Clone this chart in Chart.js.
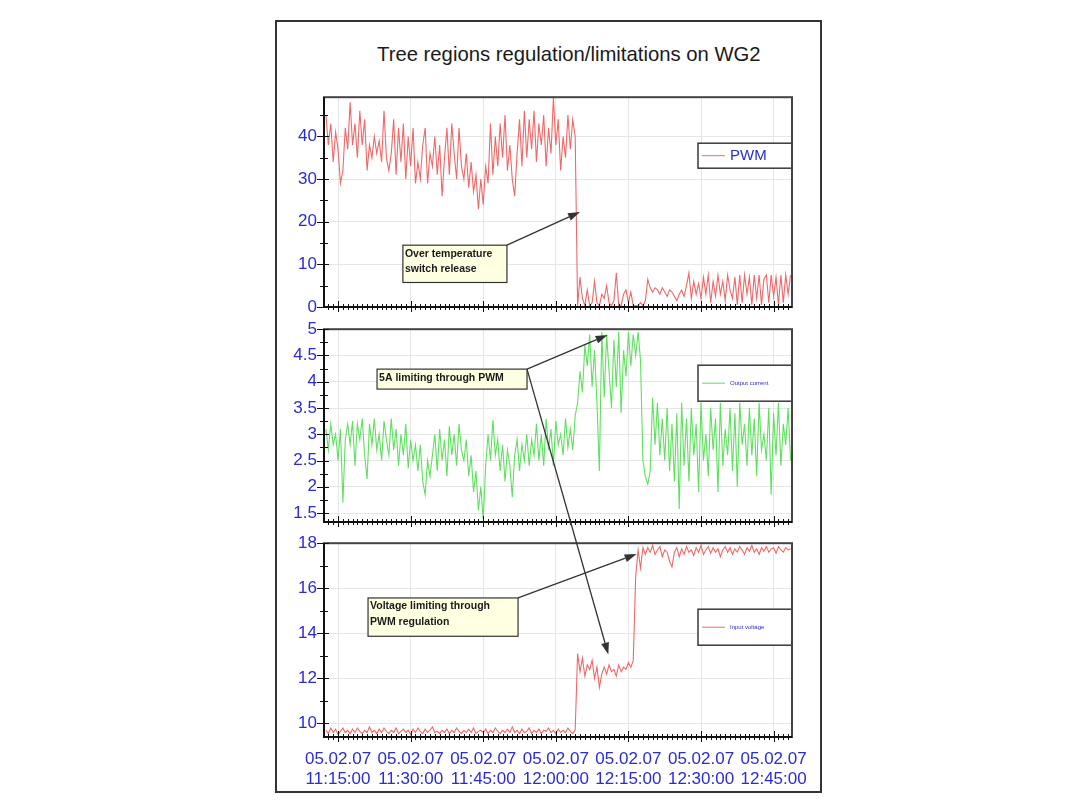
<!DOCTYPE html>
<html>
<head>
<meta charset="utf-8">
<script src="https://cdn.jsdelivr.net/npm/chart.js@4.4.0/dist/chart.umd.min.js"></script>
<style>
    html, body { margin: 0; padding: 0; background: #fff; }
    #page { position: relative; width: 1076px; height: 807px; overflow: hidden; }
    #frame { position: absolute; left: 275px; top: 20px; width: 543px; height: 769px; border: 2px solid #333; }
    #title { position: absolute; left: 377px; top: 43px; font: 20.3px Arial, "Liberation Sans", sans-serif; color: #1a1a1a; white-space: nowrap; }
    canvas { position: absolute; }
</style>
</head>
<body>
<div id="page">
    <div id="frame"></div>
    <div id="title">Tree regions regulation/limitations on WG2</div>
    <canvas id="pwmChart" width="544" height="245" style="left:276px;top:80px"></canvas>
    <canvas id="currentChart" width="544" height="228" style="left:276px;top:312px"></canvas>
    <canvas id="voltageChart" width="544" height="266" style="left:276px;top:526px"></canvas>
    <canvas id="overlay" width="1076" height="807" style="left:0;top:0"></canvas>
</div>
<script>
// Three logged channels of WG2, sampled every 30 s, time in minutes after 11:15:00

const sampleStartMin = -2.5;
const sampleStepMin = 0.5;

const dateLabel = '05.02.07';
const tickMinutes = [0, 15, 30, 45, 60, 75, 90];
const timeLabels = ['11:15:00', '11:30:00', '11:45:00', '12:00:00', '12:15:00', '12:30:00', '12:45:00'];

const pwmValues = [
    45, 38, 43, 34, 41, 37, 29, 32, 42, 37, 48, 38, 43, 35, 46, 38, 44, 32, 38, 35,
    40, 36, 39, 34, 46, 35, 32, 36, 44, 31, 42, 34, 43, 30, 40, 33, 42, 29,
    34, 30, 38, 42, 29, 36, 33, 40, 31, 38,
    26, 35, 42, 31, 43, 36, 30, 42, 33, 30, 36, 28, 34, 27, 31, 23, 30, 24, 33, 29,
    43, 31, 40, 33, 43, 35, 45, 32, 38, 30, 26, 36,
    44, 33, 46, 35, 44, 37, 46, 34, 43, 38, 45, 33,
    42, 36, 49, 38, 44, 32, 40, 35, 45, 37, 44, 40,
    0.3,
    7, 2, 0.3, 4, 0.3, 1, 6, 1, 0.3, 3, 2, 5, 1, 0.3, 1.5, 8, 0.3, 0.3, 3, 4,
    1, 3.5, 0.3, 0.3, 0.3, 1, 0.3, 1.5, 6.5,
    4.5, 3.5, 4.5, 4, 3, 4.5, 3.5, 2.5, 4, 3.5, 2.5, 1.5, 3, 4, 2.5, 5,
    8, 2, 6, 3, 5.5,
    2, 7, 3, 7.5, 1, 6, 2.5, 7.5, 3, 6, 1.5, 7.5, 4, 2,
    7, 0.5, 7.5, 1, 7.5, 3, 7, 0.5, 7.5, 2, 7.5, 0.5, 6.5, 7.5, 1, 7.5, 2.5, 7, 0.5, 7.5,
    1, 7.5, 3, 7.5
];

const currentValues = [
    3.1, 2.7, 3.2, 2.8, 3.0, 2.5, 3.1, 1.7, 2.9,
    3.2, 2.8, 3.25, 2.4, 3.2, 2.9, 3.3, 2.6,
    2.15,
    3.2, 2.8, 3.3, 2.7, 3.0, 2.5, 3.25, 2.9, 2.6,
    3.3, 2.7, 3.1, 2.4, 3.0, 2.6, 3.2, 2.35, 2.9, 2.5, 2.8,
    2.3, 2.8, 2.1, 1.85, 2.5, 2.2, 2.6,
    3.0, 2.3, 3.1, 2.5, 2.9, 2.2, 3.15, 2.6, 3.0, 2.4, 3.2, 2.7,
    2.5, 2.9, 2.2, 2.6, 1.9, 2.3, 1.55, 2.0, 1.38,
    2.4, 3.0, 2.5, 3.27, 2.6,
    2.9, 2.3, 2.8, 2.1, 2.7, 2.4, 1.8, 2.6,
    2.9, 2.3, 2.8, 2.5, 3.0, 2.4, 2.9, 2.6,
    3.2, 2.5, 3.0, 2.4, 3.3, 2.7, 3.1, 2.4, 3.25, 2.8, 3.0, 2.6, 3.3, 2.75, 3.1, 2.7, 3.35,
    3.6, 4.2, 3.8, 4.7, 4.3,
    4.9, 3.9, 4.6, 3.6, 2.3, 4.95,
    3.7, 4.9, 4.2, 3.5, 4.8, 3.9, 4.95, 3.4, 4.6, 4.1, 4.95,
    4.3, 4.9, 4.5, 4.95, 4.4,
    2.5, 2.2, 2.05, 2.3,
    3.7, 2.8, 3.6, 2.6, 3.3, 2.5,
    3.5, 2.3, 3.2, 2.1, 3.4, 1.58,
    3.6, 2.4, 3.3, 2.1, 3.5, 2.6, 3.2, 1.9, 3.6, 2.5, 3.0, 2.2, 3.5, 2.7, 3.3, 1.9,
    3.6, 2.4, 3.1, 2.6, 3.5, 2.3, 3.4, 2.0, 3.6, 2.8, 3.2, 2.4, 3.5, 2.6, 3.3, 2.2,
    3.6, 2.7, 3.0, 2.5, 3.5, 1.85, 3.4, 2.6, 3.6, 2.4, 3.2, 2.8, 3.5, 2.5
];

const voltageValues = [
    9.7, 9.55, 9.8, 9.6, 9.75, 9.5, 9.65, 9.8, 9.6, 9.7, 9.55, 9.75, 9.6,
    9.8, 9.65, 9.55, 9.7, 9.6, 9.85, 9.6, 9.7, 9.55, 9.75, 9.6, 9.8, 9.65,
    9.55, 9.7, 9.6, 9.8, 9.55, 9.65, 9.75, 9.6, 9.7, 9.5, 9.75, 9.6, 9.8,
    9.65, 9.55, 9.75, 9.6, 9.7, 9.85, 9.6, 9.65, 9.55, 9.7, 9.6, 9.75, 9.55,
    9.7, 9.6, 9.8, 9.65, 9.55, 9.7, 9.6, 9.75, 9.6, 9.8, 9.55, 9.65, 9.7,
    9.6, 9.75, 9.55, 9.7, 9.6, 9.8, 9.65, 9.55, 9.7, 9.6, 9.75, 9.6, 9.85,
    9.6, 9.7, 9.55, 9.75, 9.6, 9.65, 9.8, 9.55, 9.7, 9.6, 9.75, 9.55, 9.7,
    9.65, 9.8, 9.6, 9.7, 9.55, 9.75, 9.6, 9.7, 9.6, 9.8, 9.65, 9.55, 9.7,
    13.1,
    12.3, 12.9, 12.1, 12.6, 12.4, 12.8, 12.0, 12.5, 11.6, 12.2,
    12.5, 12.2, 12.6, 12.3, 12.4, 12.1, 12.6, 12.3, 12.5, 12.4, 12.7, 12.5, 12.8,
    16.5, 17.7, 16.9, 17.8, 17.5,
    17.8, 17.6, 17.9, 17.5, 17.7, 17.85, 17.4, 17.7, 17.6, 17.2,
    16.95, 17.6, 17.8, 17.4, 17.75, 17.5, 17.85, 17.6, 17.7, 17.45,
    17.8, 17.6, 17.9, 17.5, 17.7, 17.85, 17.55, 17.8, 17.6, 17.75,
    17.4, 17.7, 17.85, 17.6, 17.8, 17.5, 17.75, 17.6, 17.85, 17.7,
    17.5, 17.8, 17.65, 17.9, 17.6, 17.75, 17.5, 17.8, 17.65, 17.85,
    17.6, 17.75, 17.8, 17.55, 17.85, 17.7, 17.6, 17.8, 17.7, 17.75
];

const pwmTicks = [0, 10, 20, 30, 40];
const currentTicks = [1.5, 2, 2.5, 3, 3.5, 4, 4.5, 5];
const voltageTicks = [10, 12, 14, 16, 18];

// annotation boxes, in data units of their panel (minutes, value)
const notes = [
    { panel: 0, lines: ['Over temperature', 'switch release'], from: [13.4, 14.5], to: [34.9, 5.75],
      arrows: [{ panel: 0, at: [50.0, 22.3] }] },
    { panel: 1, lines: ['5A limiting through PWM'], from: [8.06, 4.24], to: [39.05, 3.86],
      arrows: [{ panel: 1, at: [55.7, 4.89] }, { panel: 2, at: [55.85, 13.06] }] },
    { panel: 2, lines: ['Voltage limiting through', 'PWM regulation'], from: [6.2, 15.57], to: [37.2, 13.87],
      arrows: [{ panel: 2, at: [61.7, 17.52] }] }
];

Chart.defaults.font.family = 'Arial, "Liberation Sans", sans-serif';
const tickBlue = '#2b2bd4';

function toPoints(values) {
    return values.map((v, i) => ({ x: sampleStartMin + i * sampleStepMin, y: v }));
}

const panelDecor = {
    id: 'panelDecor',
    afterDraw(chart, args, opts) {
        const { ctx, chartArea: a } = chart;
        const xs = chart.scales.x, ys = chart.scales.y;
        ctx.save();

        // legend box, top right of the plot area
        const lg = opts.legend;
        const bw = 94;
        const bx = a.right - bw, by = a.top + lg.top;
        ctx.fillStyle = '#fff';
        ctx.fillRect(bx, by, bw, lg.height);
        ctx.strokeStyle = '#3a3a3a';
        ctx.lineWidth = 1.5;
        ctx.strokeRect(bx, by, bw, lg.height);
        const ly = by + lg.height / 2;
        ctx.strokeStyle = lg.color;
        ctx.lineWidth = 1;
        ctx.beginPath();
        ctx.moveTo(bx + 4, ly);
        ctx.lineTo(bx + 27, ly);
        ctx.stroke();
        ctx.fillStyle = tickBlue;
        ctx.font = lg.font;
        ctx.textBaseline = 'middle';
        ctx.fillText(lg.text, bx + 32, ly + 0.5);

        // frame and axes
        ctx.strokeStyle = '#444';
        ctx.lineWidth = 2;
        ctx.strokeRect(a.left, a.top, a.right - a.left, a.bottom - a.top);
        ctx.strokeStyle = '#111';
        ctx.beginPath();
        ctx.moveTo(a.left, a.top);
        ctx.lineTo(a.left, a.bottom);
        ctx.lineTo(a.right, a.bottom);
        ctx.stroke();

        // minute ticks across the time axis
        ctx.lineWidth = 1;
        for (let m = Math.ceil(xs.min); m <= xs.max; m++) {
            const px = Math.round(xs.getPixelForValue(m)) + 0.5;
            const major = m % 15 === 0;
            ctx.beginPath();
            ctx.moveTo(px, a.bottom - (major ? 6 : 3));
            ctx.lineTo(px, a.bottom + (major ? 5 : 3));
            ctx.stroke();
        }

        // value ticks across the left axis
        const step = opts.yMinor;
        for (let k = Math.ceil(ys.min / step - 1e-6); k * step <= ys.max + 1e-6; k++) {
            const v = k * step;
            const py = Math.round(ys.getPixelForValue(v)) + 0.5;
            const r = v / opts.yMajor;
            const major = Math.abs(r - Math.round(r)) < 1e-6;
            ctx.beginPath();
            ctx.moveTo(a.left - (major ? 7 : 4), py);
            ctx.lineTo(a.left + (major ? 5 : 4), py);
            ctx.stroke();
        }
        ctx.restore();
    }
};

function makePanel(canvasId, values, color, yMin, yMax, yTicks, yMinor, yMajor, legend, showTimes) {
    return new Chart(document.getElementById(canvasId), {
        type: 'line',
        plugins: [panelDecor],
        data: {
            datasets: [{
                data: toPoints(values),
                borderColor: color,
                borderWidth: 1.1,
                pointRadius: 0,
                tension: 0
            }]
        },
        options: {
            responsive: false,
            animation: false,
            events: [],
            layout: { padding: { top: 13, right: 28, left: 0, bottom: 0 } },
            scales: {
                x: {
                    type: 'linear',
                    min: -2.9,
                    max: 93.8,
                    afterBuildTicks: scale => { scale.ticks = tickMinutes.map(v => ({ value: v })); },
                    afterFit: scale => { scale.height = showTimes ? 55 : 18; },
                    border: { display: false },
                    grid: { color: '#e6e6e6', lineWidth: 1, drawTicks: false },
                    ticks: {
                        display: showTimes,
                        autoSkip: false,
                        maxRotation: 0,
                        minRotation: 0,
                        padding: 12,
                        color: tickBlue,
                        font: { size: 17 },
                        callback: value => [dateLabel, timeLabels[tickMinutes.indexOf(value)]]
                    }
                },
                y: {
                    min: yMin,
                    max: yMax,
                    afterBuildTicks: scale => { scale.ticks = yTicks.map(v => ({ value: v })); },
                    afterFit: scale => { scale.width = 48; },
                    border: { display: false },
                    grid: { color: '#e6e6e6', lineWidth: 1, drawTicks: false },
                    ticks: {
                        padding: 7,
                        color: tickBlue,
                        font: { size: 17 },
                        callback: value => `${value}`
                    }
                }
            },
            plugins: {
                legend: { display: false },
                title: { display: false },
                tooltip: { enabled: false },
                panelDecor: { yMinor, yMajor, legend }
            }
        }
    });
}

const charts = [
    makePanel('pwmChart', pwmValues, '#f06868', 0, 49.2, pwmTicks, 5, 10,
        { text: 'PWM', color: '#f06868', font: '15px Arial, "Liberation Sans", sans-serif', top: 46, height: 25 }, false),
    makePanel('currentChart', currentValues, '#5fe05f', 1.33, 5, currentTicks, 0.25, 0.5,
        { text: 'Output current', color: '#5fe05f', font: '6px Arial, "Liberation Sans", sans-serif', top: 36, height: 36 }, false),
    makePanel('voltageChart', voltageValues, '#f06868', 9.4, 18, voltageTicks, 1, 2,
        { text: 'Input voltage', color: '#f06868', font: '6px Arial, "Liberation Sans", sans-serif', top: 66, height: 36 }, true)
];

// annotation boxes and arrows, drawn above all three panels
function pagePoint(panel, t, v) {
    const chart = charts[panel];
    const c = chart.canvas;
    return [c.offsetLeft + chart.scales.x.getPixelForValue(t), c.offsetTop + chart.scales.y.getPixelForValue(v)];
}

function drawArrow(ctx, x0, y0, x1, y1) {
    const ang = Math.atan2(y1 - y0, x1 - x0);
    const len = 12, half = 4;
    const bx = x1 - len * Math.cos(ang), by = y1 - len * Math.sin(ang);
    ctx.beginPath();
    ctx.moveTo(x0, y0);
    ctx.lineTo(bx, by);
    ctx.stroke();
    ctx.beginPath();
    ctx.moveTo(x1, y1);
    ctx.lineTo(bx + half * Math.sin(ang), by - half * Math.cos(ang));
    ctx.lineTo(bx - half * Math.sin(ang), by + half * Math.cos(ang));
    ctx.closePath();
    ctx.fill();
}

const octx = document.getElementById('overlay').getContext('2d');
notes.forEach(note => {
    const [x0, y0] = pagePoint(note.panel, note.from[0], note.from[1]);
    const [x1, y1] = pagePoint(note.panel, note.to[0], note.to[1]);
    octx.strokeStyle = '#333';
    octx.fillStyle = '#333';
    octx.lineWidth = 1.3;
    note.arrows.forEach(ar => {
        const [tx, ty] = pagePoint(ar.panel, ar.at[0], ar.at[1]);
        drawArrow(octx, x1, y0, tx, ty);
    });
    octx.fillStyle = '#ffffe1';
    octx.fillRect(x0, y0, x1 - x0, y1 - y0);
    octx.strokeStyle = '#333';
    octx.lineWidth = 1.2;
    octx.strokeRect(x0, y0, x1 - x0, y1 - y0);
    octx.fillStyle = '#1a1a1a';
    octx.font = 'bold 10.5px Arial, "Liberation Sans", sans-serif';
    octx.textBaseline = 'middle';
    note.lines.forEach((line, k) => {
        octx.fillText(line, x0 + 2, y0 + 8.5 + k * 15.5);
    });
});
</script>
</body>
</html>
